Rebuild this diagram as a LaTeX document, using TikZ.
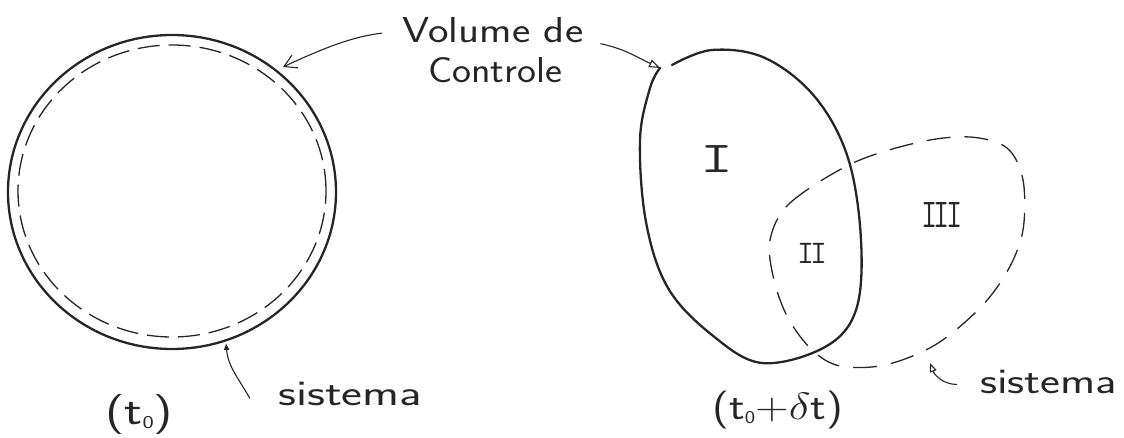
\documentclass[tikz,border=0pt]{standalone}
\usepackage{fix-cm}
\usepackage{graphicx}
\usetikzlibrary{arrows.meta}
\definecolor{ink}{HTML}{262626}
\newcommand{\hwfit}[2]{\resizebox{#1}{\height}{#2}}
\newcommand{\subzero}{\raisebox{-0.12em}{\fontsize{18}{18}\selectfont 0}}
\begin{document}
\begin{tikzpicture}[x=1pt,y=-1pt,
  outline/.style={draw=ink, line width=2.3pt, line cap=round, line join=round},
  syscirc/.style={draw=ink, line width=1.3pt, dash pattern=on 22pt off 9pt},
  sysblob/.style={draw=ink, line width=1.3pt, dash pattern=on 24pt off 14pt},
  lbl/.style={inner sep=0pt, text=ink, font=\fontsize{36}{40}\selectfont\sffamily},
  num/.style={inner sep=0pt, text=ink},
  pointer/.style={draw=ink, line width=1.1pt}
]
\useasboundingbox (0,0) rectangle (1124,438);

% ---- left: control volume at t0 ----
\draw[outline] (172,192) ellipse [x radius=164pt, y radius=157pt];
\draw[syscirc] (172,191) ellipse [x radius=154pt, y radius=146pt];

% ---- right: control volume at t0 + dt ----
\draw[outline] plot[smooth, tension=0.6] coordinates {
 (672,65) (712,50) (765,58) (815,97) (848,158) (861,240) (856,310) (825,347)
 (762,363) (712,335) (668,288) (646,222) (640,140) (650,88) (660,68)};
\draw[sysblob] plot[smooth cycle, tension=0.55] coordinates {
 (770,240) (790,203) (853,163) (920,142) (970,137) (1007,148) (1023,180)
 (1023,230) (1008,270) (980,308) (935,345) (885,365) (840,366) (812,350)
 (788,318) (774,280)};

% ---- points on the boundaries ----
\coordinate (cvA) at (283,67);
\coordinate (cvB) at (660,68);
\coordinate (sysA) at (226,343);
\coordinate (sysB) at (930,363);

% ---- labels ----
\node[lbl, anchor=base west] (vol) at (402,43) {\hwfit{181pt}{Volume de}};
\node[lbl, anchor=base west] (ctl) at (428,83) {\hwfit{134pt}{Controle}};
\node[lbl, anchor=base west] (sisL) at (278,405) {\hwfit{144pt}{sistema}};
\node[lbl, anchor=base west] (sisR) at (980,393) {\hwfit{137pt}{sistema}};
\node[lbl, font=\fontsize{40}{44}\selectfont\sffamily, anchor=base west] (tA) at (105,424) {\hwfit{68pt}{(t\subzero)}};
\node[lbl, font=\fontsize{38}{44}\selectfont\sffamily, anchor=base west] (tB) at (712,419) {\hwfit{131pt}{(t\subzero+$\delta$t)}};

\node[num, font=\fontsize{44}{44}\selectfont\ttfamily] (r1) at (717,159) {\hwfit{33pt}{I}};
\node[num, font=\fontsize{33}{33}\selectfont\ttfamily] (r2) at (812,253) {\hwfit{30pt}{I\kern-0.12em I}};
\node[num, font=\fontsize{41}{41}\selectfont\ttfamily] (r3) at (942,215) {\hwfit{41pt}{I\kern-0.12em I\kern-0.12em I}};

% ---- pointers ----
\draw[pointer, -{Straight Barb[length=12pt,width=14pt]}, shorten <=20pt] (vol.west) to[out=187,in=25] (cvA);
\draw[pointer, -{Triangle[open,length=11pt,width=8pt]}] ([xshift=17pt,yshift=-13pt]vol.east) to[out=-12,in=155] (cvB);
\draw[pointer, -{Latex[length=7pt,width=6pt]}] ([xshift=-28pt,yshift=-5pt]sisL.west) to[out=120,in=-85] (sysA);
\draw[pointer, -{Triangle[open,length=9pt,width=7pt]}] ([xshift=-23pt,yshift=-3pt]sisR.west) to[out=180,in=-69] (sysB);
\end{tikzpicture}
\end{document}
